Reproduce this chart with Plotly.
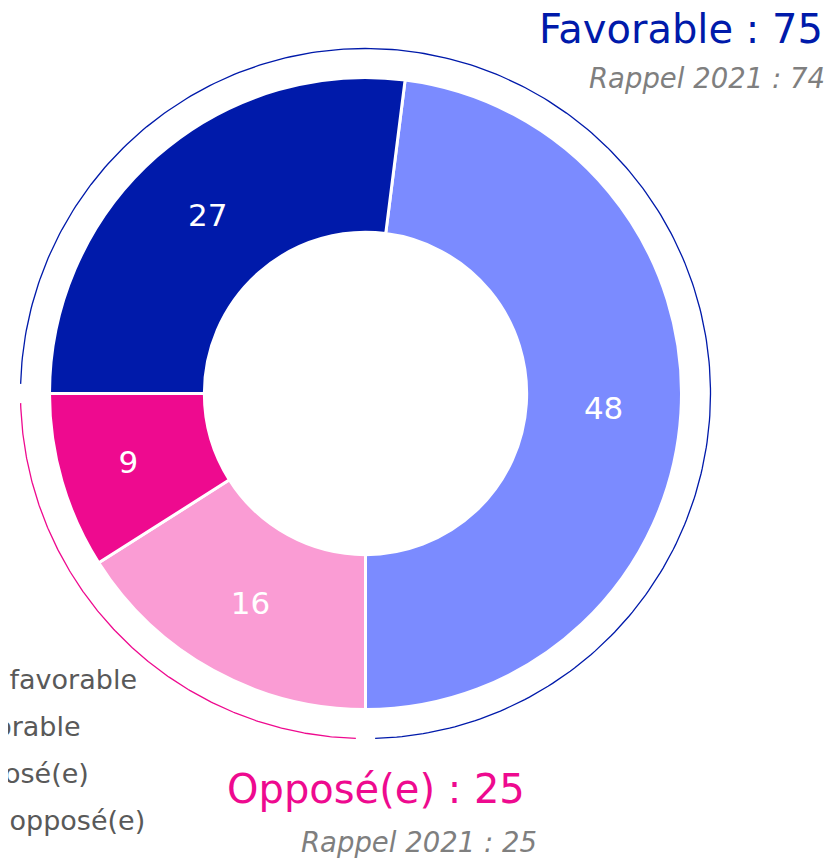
import numpy as np
import plotly.graph_objects as go

# ---- data ----
labels = ["Plutôt favorable", "Plutôt opposé(e)", "Tout à fait opposé(e)", "Tout à fait favorable"]
values = [48, 16, 9, 27]
colors = ["#7B8BFF", "#FA9CD4", "#EE0A8F", "#001AAA"]
legend_order = ["Tout à fait favorable", "Plutôt favorable", "Plutôt opposé(e)", "Tout à fait opposé(e)"]
fav_total = 75
opp_total = 25
fav_2021 = 74
opp_2021 = 25

# ---- layout geometry (screen pixels; page body has an 8px margin) ----
OFF = 8
W, H = 833 - OFF, 858 - OFF
cx, cy, R = 365.5, 393.5, 316
hole = 0.51
arc_r = 345
gap = 1.6
font = "'DejaVu Sans', sans-serif"

def px(x):
    return (x - OFF) / W

def py(y):
    return 1 - (y - OFF) / H

total = sum(values)
rot = 180 - values[0] / total * 360
bounds = rot + 360 * np.cumsum([0] + values) / total

fig = go.Figure()
fig.add_trace(go.Pie(
    labels=labels, values=values, sort=False, direction="clockwise",
    rotation=rot, hole=hole,
    marker=dict(colors=colors, line=dict(color="white", width=3)),
    textinfo="value", textposition="inside", insidetextorientation="horizontal",
    textfont=dict(color="white", size=31, family=font),
    domain=dict(x=[px(cx - R), px(cx + R)], y=[py(cy + R), py(cy - R)]),
    showlegend=False, hoverinfo="label+value",
))

def arc(a0, a1, color):
    t = np.radians(np.linspace(a0, a1, 300))
    fig.add_trace(go.Scatter(x=cx + arc_r * np.sin(t), y=cy - arc_r * np.cos(t), mode="lines",
                             line=dict(color=color, width=1.3), hoverinfo="skip", showlegend=False))

arc(bounds[3] + gap, bounds[1] + 360 - gap, "#001AAA")
arc(bounds[1] + gap, bounds[3] - gap, "#EE0A8F")

ann = []
ann.append(dict(x=px(825), y=py(29), text=f"Favorable : {fav_total}", xanchor="right", yanchor="middle",
                font=dict(size=40, color="#001AAA", family=font)))
ann.append(dict(x=px(827), y=py(78), text=f"<i>Rappel 2021 : {fav_2021}</i>", xanchor="right", yanchor="middle",
                font=dict(size=27.5, color="#7F7F7F", family=font)))
ann.append(dict(x=px(376), y=py(789), text=f"Opposé(e) : {opp_total}", xanchor="center", yanchor="middle",
                font=dict(size=40, color="#EE0A8F", family=font)))
ann.append(dict(x=px(539), y=py(842), text=f"<i>Rappel 2021 : {opp_2021}</i>", xanchor="right", yanchor="middle",
                font=dict(size=27.5, color="#7F7F7F", family=font)))
for i, lab in enumerate(legend_order):
    ann.append(dict(x=px(-136), y=py(679 + i * 47), text=lab, xanchor="left", yanchor="middle",
                    font=dict(size=27, color="#595959", family=font)))
for a in ann:
    a.update(xref="paper", yref="paper", showarrow=False)

fig.update_layout(
    width=W, height=H, margin=dict(l=0, r=0, t=0, b=0, autoexpand=False),
    paper_bgcolor="white", plot_bgcolor="white",
    xaxis=dict(range=[OFF, OFF + W], visible=False, fixedrange=True),
    yaxis=dict(range=[OFF + H, OFF], visible=False, fixedrange=True),
    annotations=ann, showlegend=False,
)
fig.write_html("out.html")
